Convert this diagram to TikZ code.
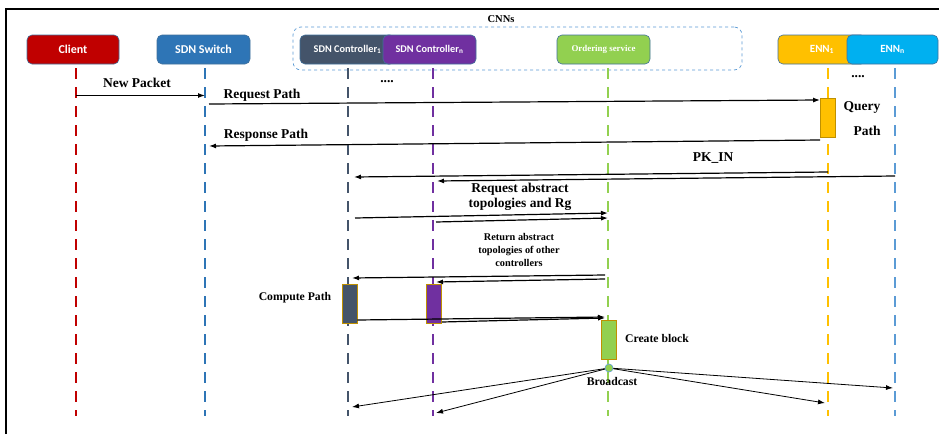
\documentclass[tikz,border=0pt]{standalone}
\usepackage{fontspec}
\setmainfont{Liberation Serif}
\newfontfamily\boxfont{Carlito}
\usetikzlibrary{arrows.meta}
\definecolor{cred}{HTML}{C00000}
\definecolor{cblue}{HTML}{2E75B6}
\definecolor{cslate}{HTML}{44546A}
\definecolor{cpurple}{HTML}{7030A0}
\definecolor{cgreen}{HTML}{92D050}
\definecolor{corange}{HTML}{FFC000}
\definecolor{ccyan}{HTML}{00B0F0}
\definecolor{clight}{HTML}{5B9BD5}
\definecolor{cedge}{HTML}{41719C}
\definecolor{cbrown}{HTML}{BF9000}
\tikzset{
  actor/.style={rounded corners=5pt, draw=cedge, line width=0.6pt, text=white,
    minimum height=29pt, inner sep=0pt, font=\boxfont\bfseries\fontsize{12}{14}\selectfont},
  lifeline/.style={line width=2.6pt, dash pattern=on 11pt off 8pt},
  msg/.style={-{Latex[length=7pt,width=5pt]}, line width=1.2pt},
  thinmsg/.style={-{Latex[length=7pt,width=5pt]}, line width=0.8pt},
  actbox/.style={draw=cbrown, line width=0.8pt, minimum width=15pt, minimum height=39pt, inner sep=0pt},
  lbl/.style={font=\bfseries\fontsize{13.5}{15}\selectfont, inner sep=0pt},
  mlbl/.style={font=\bfseries\fontsize{11.7}{13}\selectfont, inner sep=0pt},
  slbl/.style={font=\bfseries\fontsize{10.3}{12.8}\selectfont, inner sep=0pt, align=center},
}
\begin{document}
\begin{tikzpicture}[x=1pt,y=-1pt]
\useasboundingbox (0,0) rectangle (939,434);
\fill[white] (0,0) rectangle (939,434);
% frame
\draw[line width=1.5pt] (6,434) -- (6,9) -- (939,9);
% CNNs group
\node[draw=clight, dashed, rounded corners=8pt, line width=0.7pt, minimum width=449pt, minimum height=43pt, inner sep=0pt] (cnns) at (517.5,48.5) {};
\node[font=\bfseries\fontsize{10.5}{12}\selectfont, inner sep=0pt] (cnnslbl) at (501,19) {CNNs};
% actors
\node[actor, fill=cred, minimum width=92pt] (client) at (73,49.5) {Client};
\node[actor, fill=cblue, minimum width=93pt] (switch) at (203.5,49.5) {SDN Switch};
\node[actor, fill=cslate, minimum width=95pt, font=\boxfont\bfseries\fontsize{10.3}{12}\selectfont] (ctrlA) at (347.5,49.5) {SDN Controller\textsubscript{1}};
\node[actor, fill=cpurple, minimum width=93pt, font=\boxfont\bfseries\fontsize{10.3}{12}\selectfont] (ctrlB) at (429.5,49.5) {SDN Controller\textsubscript{n}};
\node[actor, fill=cgreen, minimum width=93pt, font=\bfseries\fontsize{8.9}{10}\selectfont] (order) at (603.5,49.5) {Ordering service};
\node[actor, fill=corange, minimum width=88pt, font=\boxfont\bfseries\fontsize{11}{13}\selectfont] (ennA) at (822,49.5) {ENN\textsubscript{1}};
\node[actor, fill=ccyan, minimum width=91pt, font=\boxfont\bfseries\fontsize{11}{13}\selectfont] (ennB) at (892.5,49.5) {ENN\textsubscript{n}};
% lifeline coordinates
\coordinate (lc) at (76,68);   \coordinate (lcE) at (76,416);
\coordinate (ls) at (205,68);  \coordinate (lsE) at (205,416);
\coordinate (la) at (348,68);  \coordinate (laE) at (348,416);
\coordinate (lb) at (433,68);  \coordinate (lbE) at (433,416);
\coordinate (lo) at (608,68);  \coordinate (loE) at (608,416);
\coordinate (le) at (828,68);  \coordinate (leE) at (828,416);
\coordinate (lf) at (895,68);  \coordinate (lfE) at (895,416);
\draw[lifeline, cred] (lc) -- (lcE);
\draw[lifeline, cblue] (ls) -- (lsE);
\draw[lifeline, cslate] (la) -- (laE);
\draw[lifeline, cpurple] (lb) -- (lbE);
\draw[lifeline, cgreen] (lo) -- (loE);
\draw[lifeline, corange] (le) -- (leE);
\draw[lifeline, clight] (lf) -- (lfE);
% dots
\node[lbl] (dots1) at (387,82) {....};
\node[lbl] (dots2) at (858,77) {....};
% activation boxes
\node[actbox, fill=corange] (actq) at (828,117.5) {};
\node[actbox, fill=cslate] (act1) at (349.5,303.5) {};
\node[actbox, fill=cpurple] (act2) at (434,303.5) {};
\node[actbox, fill=cgreen] (actcb) at (609,339.5) {};
% messages
\draw[msg] (lc |- 0,95.5) -- (ls |- 0,95.5);
\node[lbl] (tnew) at (137,83) {New Packet};
\draw[msg] (209,104) -- (actq.west |- 0,100);
\node[lbl] (treq) at (262,95) {Request Path};
\node[lbl] (tq1) at (862,107) {Query};
\node[lbl] (tq2) at (867,131) {Path};
\draw[msg] (actq.south west |- 0,140) -- (209,146);
\node[lbl] (tresp) at (266,135) {Response Path};
\node[lbl] (tpk) at (713,158) {PK\_IN};
\draw[msg] (le |- 0,172) -- (354,177);
\draw[msg] (lf |- 0,176) -- (437,181);
\node[lbl, align=center] (treqab) at (520,197) {Request abstract\\topologies and Rg};
\draw[msg] (355,218) -- (lo |- 0,213);
\draw[msg] (436,222) -- (lo |- 0,218);
\node[slbl] (tret) at (519,250) {Return abstract\\topologies of other\\controllers};
\draw[msg] (605,275) -- (352,278);
\draw[msg] (605,279) -- (436,282);
\node[mlbl] (tcomp) at (295,298) {Compute Path};
\draw[msg] (act1.east |- 0,320) -- (605,317);
\draw[msg] (act2.east |- 0,322) -- (605,318);
\node[mlbl] (tcb) at (657,338) {Create block};
% broadcast
\node[circle, draw=clight, fill=cgreen, minimum size=8pt, inner sep=0pt, line width=0.6pt] (bc) at (609,368) {};
\node[mlbl] (tbc) at (612,381) {Broadcast};
\draw[thinmsg] (bc) -- (352,407);
\draw[thinmsg] (bc) -- (436,413);
\draw[thinmsg] (bc) -- (825,403);
\draw[thinmsg] (bc) -- (893,388);
\end{tikzpicture}
\end{document}
